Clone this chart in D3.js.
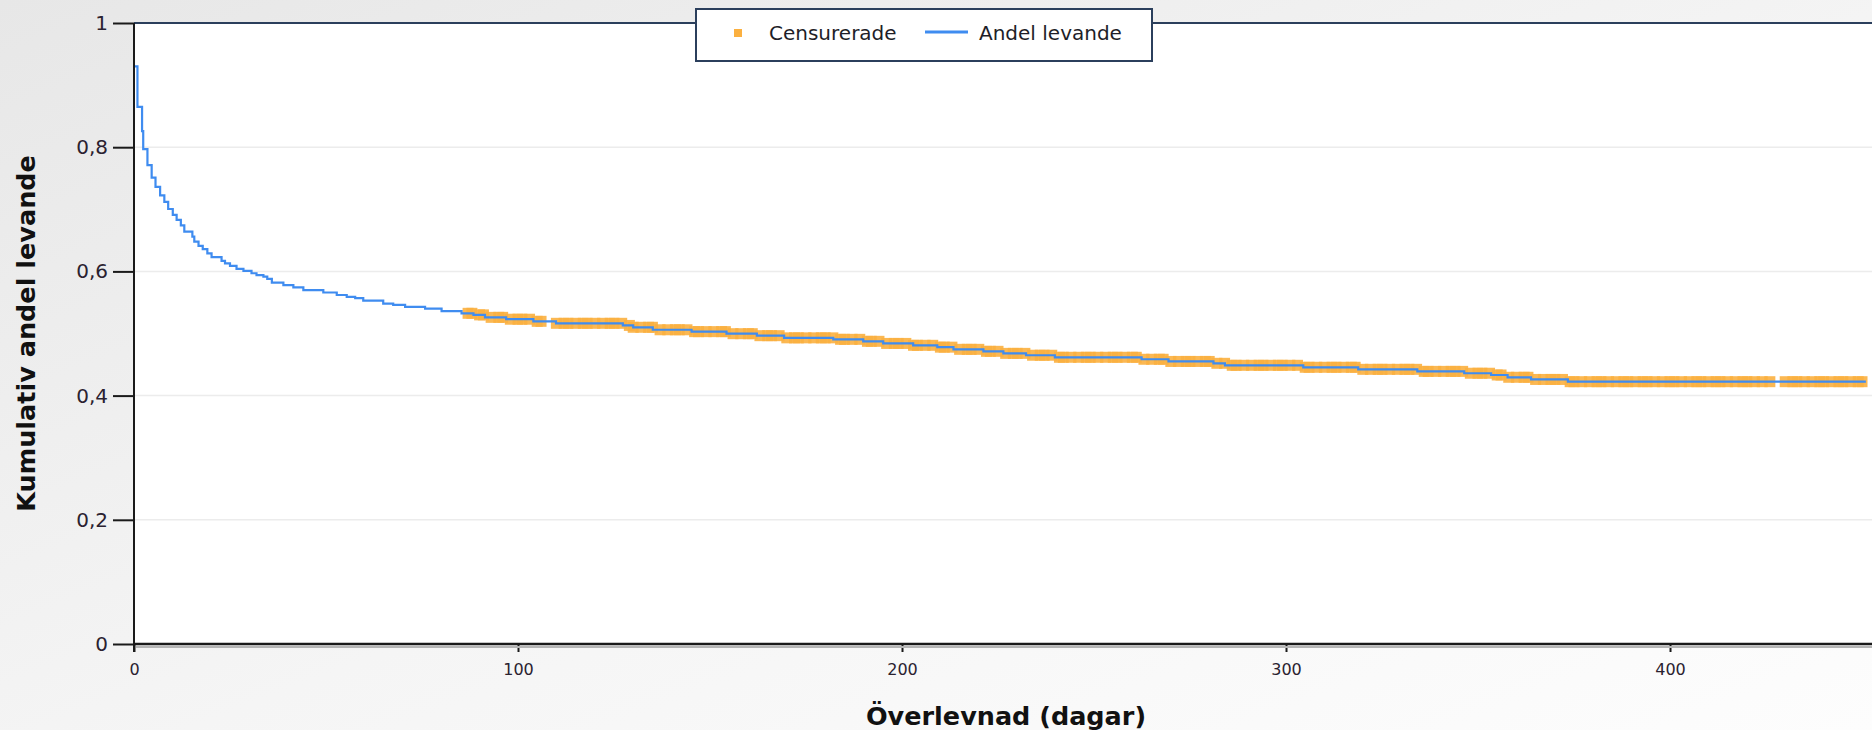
<!DOCTYPE html>
<html>
<head>
<meta charset="utf-8">
<script src="https://cdn.jsdelivr.net/npm/d3@7"></script>
<style>
  html, body { margin: 0; padding: 0; background: #fff; overflow: hidden; }
  text { font-family: "DejaVu Sans", Verdana, sans-serif; }
</style>
</head>
<body>
<svg id="chart" width="1872" height="730"></svg>
<script>
// Kaplan–Meier estimate: day of each drop and the survival proportion after it
const stepDays = [0, 0.9, 2.1, 2.4, 3.5, 4.6, 5.6, 6.8, 7.9, 8.9, 10.1, 11.1, 12.2, 13.1,
  15.2, 15.7, 16.8, 17.9, 19.1, 20.2, 22.8, 23.7, 25.0, 26.7, 28.5, 30.6, 31.9, 33.7,
  34.7, 35.9, 38.9, 41.5, 44.1, 49.3, 52.8, 55.4, 57.6, 59.7, 64.9, 67.5, 70.6, 75.8,
  80.1, 85.3, 88.4, 91.4, 96.9, 104.0, 109.9, 127.3, 130.0, 135.1, 145.2, 154.3, 162.2,
  169.3, 182.1, 189.9, 195.1, 202.9, 209.2, 213.4, 221.2, 226.4, 232.3, 239.8, 262.4,
  269.4, 281.1, 284.1, 304.5, 318.8, 334.2, 346.4, 353.4, 357.7, 363.8, 373.4];
const survival = [0.930, 0.865, 0.826, 0.797, 0.771, 0.751, 0.736, 0.7225, 0.712, 0.7005,
  0.691, 0.683, 0.674, 0.664, 0.656, 0.648, 0.641, 0.636, 0.629, 0.623, 0.617, 0.613,
  0.609, 0.604, 0.601, 0.597, 0.594, 0.5915, 0.588, 0.582, 0.578, 0.5744, 0.570, 0.566,
  0.562, 0.559, 0.557, 0.553, 0.548, 0.546, 0.543, 0.540, 0.536, 0.5325, 0.530, 0.526,
  0.523, 0.5196, 0.5164, 0.513, 0.510, 0.506, 0.503, 0.4997, 0.4965, 0.493, 0.4906,
  0.4874, 0.484, 0.481, 0.478, 0.4745, 0.4713, 0.468, 0.465, 0.4617, 0.4585, 0.455,
  0.452, 0.4488, 0.4456, 0.4423, 0.439, 0.436, 0.4332, 0.4295, 0.426, 0.4224];
const lastFollowUp = 451;

// Censored observations (day of last follow-up)
const censoredDays = [
  87, 88, 90, 91, 93, 95, 96, 98, 100, 101, 103, 105, 106,
  110, 112, 113, 115, 117, 118, 120, 122, 124, 125, 127, 129, 130, 132, 134, 135, 137,
  139, 141, 142, 144, 146, 147, 149, 151, 153, 154, 156, 158, 160, 161, 163, 165, 166,
  168, 170, 172, 173, 175, 177, 179, 180, 182, 184, 185, 187, 189, 191, 192, 194, 196,
  198, 199, 201, 203, 204, 206, 208, 210, 211, 213, 215, 217, 218, 220, 222, 223, 225,
  227, 229, 230, 232, 234, 236, 237, 239, 241, 242, 244, 246, 248, 249, 251, 253, 255,
  256, 258, 260, 261, 263, 265, 267, 268, 270, 272, 274, 275, 277, 279, 280, 282, 284,
  286, 287, 289, 291, 293, 294, 296, 298, 299, 301, 303, 305, 306, 308, 310, 312, 313,
  315, 317, 318, 320, 322, 324, 325, 327, 329, 331, 332, 334, 336, 337, 339, 341, 343,
  344, 346, 348, 350, 351, 353, 355, 356, 358, 360, 362, 363, 365, 367, 369, 370, 372,
  374, 375, 377, 379, 381, 382, 384, 386, 388, 389, 391, 393, 394, 396, 398, 400, 401,
  403, 405, 407, 408, 410, 412, 413, 415, 417, 419, 420, 422, 424, 426,
  430, 432, 433, 435, 437, 439, 440, 442, 444, 445, 447, 449, 450];

const yTicks = [0, 0.2, 0.4, 0.6, 0.8, 1];
const yTickLabels = ["0", "0,2", "0,4", "0,6", "0,8", "1"];
const xTicks = [0, 100, 200, 300, 400];
const xTickLabels = ["0", "100", "200", "300", "400"];
const seriesNames = ["Censurerade", "Andel levande"];
const xTitle = "Överlevnad (dagar)";
const yTitle = "Kumulativ andel levande";

const colors = { censored: "#fbb040", line: "#3f8cf0", frame: "#2b3f5c", axis: "#1a1a1a" };

const W = 1872, H = 730;
const plot = { left: 134, right: 1872, top: 23, bottom: 644 };

const svg = d3.select("#chart");

const x = d3.scaleLinear().domain([0, 452.6]).range([plot.left, plot.right]);
const y = d3.scaleLinear().domain([0, 1]).range([plot.bottom, plot.top]);

// Page background with soft gradient
const defs = svg.append("defs");
const grad = defs.append("linearGradient").attr("id", "bg")
  .attr("x1", "0").attr("y1", "0").attr("x2", "1").attr("y2", "1");
grad.append("stop").attr("offset", "0").attr("stop-color", "#e7e7e7");
grad.append("stop").attr("offset", "0.55").attr("stop-color", "#f5f5f5");
grad.append("stop").attr("offset", "1").attr("stop-color", "#fdfdfd");
defs.append("filter").attr("id", "soft")
  .attr("x", "-2%").attr("y", "-50%").attr("width", "104%").attr("height", "200%")
  .append("feGaussianBlur").attr("stdDeviation", 0.7);
svg.append("rect").attr("width", W).attr("height", H).attr("fill", "url(#bg)");

// Plot area
svg.append("rect")
  .attr("x", plot.left).attr("y", plot.top)
  .attr("width", plot.right - plot.left).attr("height", plot.bottom - plot.top)
  .attr("fill", "#ffffff");

// Horizontal gridlines
svg.append("g").selectAll("line")
  .data(yTicks.filter(d => d > 0 && d < 1))
  .join("line")
  .attr("x1", plot.left).attr("x2", plot.right)
  .attr("y1", d => y(d)).attr("y2", d => y(d))
  .attr("stroke", "#ececec").attr("stroke-width", 1.5);

// Survival lookup for censored marks
const survivalAt = t => survival[Math.max(0, d3.bisectRight(stepDays, t) - 1)];

// Censored marks
const mark = 11;
svg.append("g").attr("filter", "url(#soft)").selectAll("rect")
  .data(censoredDays)
  .join("rect")
  .attr("x", d => x(d) - mark / 2)
  .attr("y", d => y(survivalAt(d)) - mark / 2)
  .attr("width", mark).attr("height", mark)
  .attr("fill", colors.censored)
  .attr("opacity", 0.9);

// Survival curve
const curvePts = stepDays.map((d, i) => [d, survival[i]]);
curvePts.push([lastFollowUp, survival[survival.length - 1]]);
svg.append("path")
  .datum(curvePts)
  .attr("fill", "none")
  .attr("stroke", colors.line)
  .attr("stroke-width", 2.2)
  .attr("d", d3.line().x(d => x(d[0])).y(d => y(d[1])).curve(d3.curveStepAfter));

// Top frame line
svg.append("line")
  .attr("x1", plot.left).attr("x2", plot.right)
  .attr("y1", plot.top).attr("y2", plot.top)
  .attr("stroke", colors.frame).attr("stroke-width", 2);

// Y axis
const yAxis = svg.append("g")
  .attr("transform", `translate(${plot.left},0)`)
  .call(d3.axisLeft(y).tickValues(yTicks).tickFormat((d, i) => yTickLabels[i])
    .tickSize(21).tickPadding(5));
yAxis.select(".domain").remove();
yAxis.selectAll(".tick line").attr("stroke", colors.axis).attr("stroke-width", 2);
yAxis.selectAll(".tick text")
  .attr("font-size", 20).attr("fill", "#2a2230")
  .style("font-family", "'DejaVu Sans', Verdana, sans-serif");

// X axis
const xAxis = svg.append("g")
  .attr("transform", `translate(0,${plot.bottom})`)
  .call(d3.axisBottom(x).tickValues(xTicks).tickFormat((d, i) => xTickLabels[i])
    .tickSize(8).tickPadding(12));
xAxis.select(".domain").remove();
xAxis.selectAll(".tick line").attr("stroke", colors.axis).attr("stroke-width", 2);
xAxis.selectAll(".tick text")
  .attr("font-size", 16).attr("fill", "#2a2230")
  .style("font-family", "'DejaVu Sans', Verdana, sans-serif");

// Axis lines (bottom with shadow)
svg.append("line")
  .attr("x1", plot.left + 2).attr("x2", plot.right)
  .attr("y1", plot.bottom + 3).attr("y2", plot.bottom + 3)
  .attr("stroke", "#b5b5b5").attr("stroke-width", 2);
svg.append("line")
  .attr("x1", plot.left).attr("x2", plot.right)
  .attr("y1", plot.bottom).attr("y2", plot.bottom)
  .attr("stroke", colors.axis).attr("stroke-width", 2.5);
svg.append("line")
  .attr("x1", plot.left).attr("x2", plot.left)
  .attr("y1", plot.top).attr("y2", plot.bottom + 8)
  .attr("stroke", colors.axis).attr("stroke-width", 2);

// Axis titles
svg.append("text")
  .attr("x", (plot.left + plot.right) / 2 + 3).attr("y", 716)
  .attr("text-anchor", "middle").attr("dominant-baseline", "central")
  .attr("font-size", 25.5).attr("font-weight", "bold").attr("fill", "#111")
  .text(xTitle);
svg.append("text")
  .attr("transform", `translate(26,${(plot.top + plot.bottom) / 2}) rotate(-90)`)
  .attr("text-anchor", "middle").attr("dominant-baseline", "central")
  .attr("font-size", 25.5).attr("font-weight", "bold").attr("fill", "#111")
  .text(yTitle);

// Legend
const lg = svg.append("g");
lg.append("rect")
  .attr("x", 696).attr("y", 9).attr("width", 456).attr("height", 52)
  .attr("fill", "#ffffff").attr("stroke", colors.frame).attr("stroke-width", 2);
lg.append("rect")
  .attr("x", 734).attr("y", 29).attr("width", 8).attr("height", 8)
  .attr("fill", colors.censored);
lg.append("text")
  .attr("x", 769).attr("y", 33).attr("dominant-baseline", "central")
  .attr("font-size", 20).attr("fill", "#1e1e28").text(seriesNames[0]);
lg.append("line")
  .attr("x1", 925).attr("x2", 968).attr("y1", 32).attr("y2", 32)
  .attr("stroke", colors.line).attr("stroke-width", 3);
lg.append("text")
  .attr("x", 979).attr("y", 33).attr("dominant-baseline", "central")
  .attr("font-size", 20).attr("fill", "#1e1e28").text(seriesNames[1]);
</script>
</body>
</html>
